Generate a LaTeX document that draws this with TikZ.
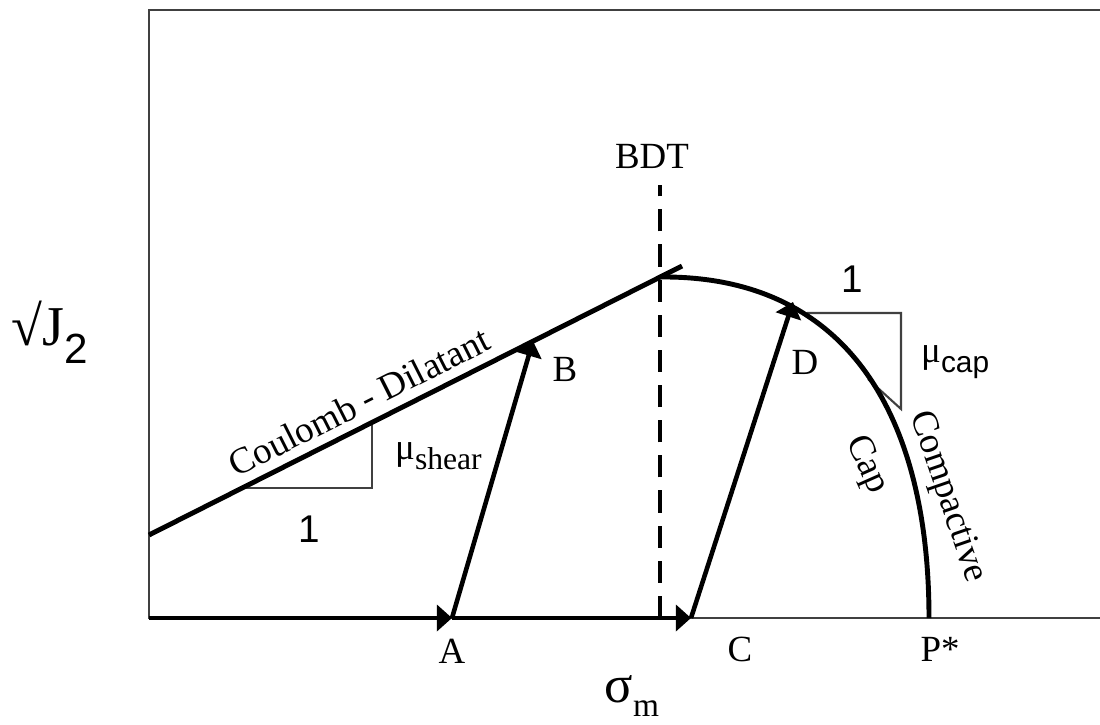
\documentclass[tikz,border=0pt]{standalone}
\usepackage{fontspec}
\setmainfont{Liberation Serif}
\newfontfamily\arialfont{Liberation Sans}
\usepackage{tikz}
\usetikzlibrary{arrows.meta,positioning}
\definecolor{frameGray}{RGB}{64,64,64}

\begin{document}
\begin{tikzpicture}[scale=1,
  yieldline/.style={black, line width=1.4pt},
  pathline/.style={black, line width=1.3pt, -{Triangle[length=4.3pt,width=7.4pt]}},
  slopeline/.style={frameGray, line width=0.6pt},
  lbl/.style={font=\fontsize{10.5}{12}\selectfont, inner sep=1pt}]
\useasboundingbox (-1.49,-1.06) rectangle (9.51,6.18);
\draw[frameGray, line width=0.7pt] (9.51,6.08) -- (0,6.08) -- (0,0) -- (9.51,0);

% points of the stress path
\coordinate (O) at (0,0);
\coordinate (A) at (3.03,0);
\coordinate (C) at (5.42,0);
\coordinate (Pstar) at (7.80,0);
\coordinate (top) at (5.11,3.41);
\coordinate (B) at (3.84,2.77);
\coordinate (D) at (6.44,3.16);
\coordinate (cdStart) at (0,0.83);
\coordinate (cdEnd) at (5.33,3.52);

% brittle-ductile transition
\draw[black, line width=1.4pt, dash pattern=on 6.3pt off 3.7pt] (5.11,0) -- (5.11,4.33);
\node[lbl] (bdt) at (5.03,4.62) {BDT};

% slope triangles
\draw[slopeline] (0.93,1.30) -- (2.23,1.30) -- (2.23,1.96);
\draw[slopeline] (6.58,3.05) -- (7.52,3.05) -- (7.52,2.09) -- (7.19,2.39);
\node[font=\arialfont\fontsize{11}{13}\selectfont] (oneshear) at (1.60,0.89) {1};
\node[font=\arialfont\fontsize{11}{13}\selectfont] (onecap) at (7.03,3.39) {1};
\node[lbl, anchor=west] (mushear) at (2.42,1.62) {μ\raisebox{-2.8pt}{\fontsize{9}{10}\selectfont shear}};
\node[lbl, anchor=west] (mucap) at (7.68,2.56) {μ\raisebox{-2.8pt}{\arialfont\fontsize{8.5}{10}\selectfont cap}};

% yield surface
\draw[yieldline] (cdStart) -- (cdEnd)
  node[lbl, pos=0.415, sloped, above=1.5pt] (cdlabel) {Coulomb - Dilatant};
\draw[yieldline] (top) .. controls (7.0,3.43) and (7.80,2.0) .. (Pstar);
\node[lbl, rotate=-66] (caplabel) at (7.17,1.53) {Cap};
\node[lbl, rotate=-71] (complabel) at (7.98,1.21) {Compactive};

% loading paths
\draw[pathline] (O) -- (A);
\draw[pathline] (A) -- (C);
\draw[pathline] (A) -- (B);
\draw[pathline] (C) -- (D);

\node[lbl] (lA) at (3.03,-0.33) {A};
\node[lbl] (lB) at (4.16,2.49) {B};
\node[lbl] (lC) at (5.91,-0.31) {C};
\node[lbl] (lD) at (6.56,2.56) {D};
\node[lbl] (lP) at (7.91,-0.31) {P*};

% axis labels
\node[inner sep=0pt] (sigm) at (4.83,-0.78) {\fontsize{15}{18}\selectfont σ\raisebox{-4pt}{\fontsize{9.5}{11}\selectfont m}};
\node (sqj) at (-0.99,2.86) {\fontsize{16}{19}\selectfont √J\raisebox{-5pt}{\arialfont\fontsize{12}{14}\selectfont 2}};
\end{tikzpicture}
\end{document}
